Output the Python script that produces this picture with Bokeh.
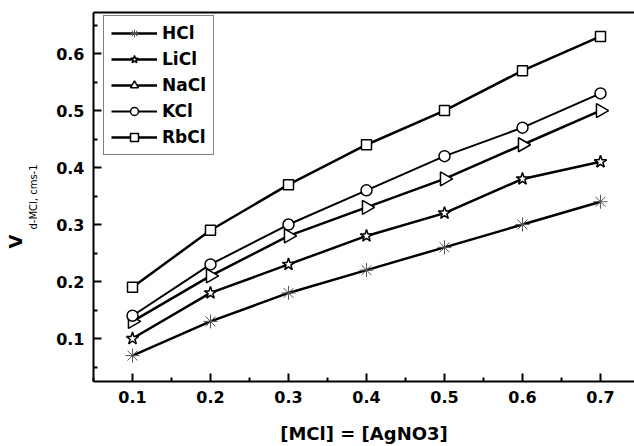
import math
from bokeh.plotting import figure
from bokeh.models import Range1d, FixedTicker, LinearAxis, Legend, Title
from bokeh.embed import file_html
from bokeh.resources import INLINE

# ---- data ----
conc = [0.1, 0.2, 0.3, 0.4, 0.5, 0.6, 0.7]
hcl = [0.07, 0.13, 0.18, 0.22, 0.26, 0.30, 0.34]
licl = [0.10, 0.18, 0.23, 0.28, 0.32, 0.38, 0.41]
nacl = [0.13, 0.21, 0.28, 0.33, 0.38, 0.44, 0.50]
kcl = [0.14, 0.23, 0.30, 0.36, 0.42, 0.47, 0.53]
rbcl = [0.19, 0.29, 0.37, 0.44, 0.50, 0.57, 0.63]
series_names = ["HCl", "LiCl", "NaCl", "KCl", "RbCl"]
x_ticks = [0.1, 0.2, 0.3, 0.4, 0.5, 0.6, 0.7]
x_minor = [0.05, 0.15, 0.25, 0.35, 0.45, 0.55, 0.65, 0.75]
y_ticks = [0.1, 0.2, 0.3, 0.4, 0.5, 0.6]
y_minor = [0.05, 0.15, 0.25, 0.35, 0.45, 0.55, 0.65]
x_title = "[MCl] = [AgNO3]"
y_title_main = "V"
y_title_sub = "d-MCl, cms-1"

FONT = "DejaVu Sans"

p = figure(width=634, height=446, output_backend="svg", toolbar_location=None,
           x_range=Range1d(0.05, 0.7436), y_range=Range1d(0.0246, 0.672),
           min_border_left=93, min_border_right=0, min_border_top=12, min_border_bottom=65)
p.outline_line_color = None
p.grid.visible = False
p.background_fill_color = "white"

for ax, ticks, minor in ((p.xaxis[0], x_ticks, x_minor), (p.yaxis[0], y_ticks, y_minor)):
    ax.ticker = FixedTicker(ticks=ticks, minor_ticks=minor)
    ax.axis_line_width = 2
    ax.axis_line_color = "black"
    ax.major_tick_line_width = 2
    ax.minor_tick_line_width = 2
    ax.major_tick_in = 8
    ax.major_tick_out = 0
    ax.minor_tick_in = 4
    ax.minor_tick_out = 0
    ax.major_label_text_font = FONT
    ax.major_label_text_font_style = "bold"
    ax.major_label_text_font_size = "16px"
    ax.major_label_text_color = "black"
    ax.major_label_standoff = 9

p.xaxis.axis_label = x_title
p.xaxis.axis_label_text_font = FONT
p.xaxis.axis_label_text_font_style = "bold"
p.xaxis.axis_label_text_font_size = "18px"
p.xaxis.axis_label_text_color = "black"
p.xaxis.axis_label_standoff = 17

# y title: subscript as the axis label, the big "V" as a side title next to it
p.yaxis.axis_label = y_title_sub
p.yaxis.axis_label_text_font = FONT
p.yaxis.axis_label_text_font_style = "normal"
p.yaxis.axis_label_text_font_size = "10px"
p.yaxis.axis_label_text_color = "black"
p.yaxis.axis_label_standoff = 14
p.add_layout(Title(text=y_title_main, align="left", offset=133, standoff=0,
                   text_font=FONT, text_font_style="bold", text_font_size="18px",
                   text_color="black"), "left")

# top border line
top_ax = LinearAxis(ticker=FixedTicker(ticks=[]), major_label_text_font_size="0px",
                    axis_line_width=2, major_tick_line_color=None, minor_tick_line_color=None)
p.add_layout(top_ax, "above")

styles = [
    (hcl, "asterisk", 14, 2.5, "#555555", None, 1.0),
    (licl, "star", 13, 2.5, "black", "white", 1.5),
    (nacl, "triangle", 14, 2.5, "black", "white", 1.5),
    (kcl, "circle", 11, 2.0, "black", "white", 1.5),
    (rbcl, "square", 10, 2.5, "black", "white", 1.5),
]
items = []
for name, (ys, marker, size, lw, mline, mfill, mlw) in zip(series_names, styles):
    r1 = p.line(conc, ys, line_color="black", line_width=lw)
    kw = dict(marker=marker, size=size, line_color=mline, line_width=mlw,
              fill_color=mfill if mfill else None)
    if marker == "triangle":
        kw["angle"] = -math.pi / 2
    r2 = p.scatter(conc, ys, **kw)
    items.append((name, [r1, r2]))

legend = Legend(items=items, location=(10, 226), padding=7, spacing=6,
                glyph_width=46, glyph_height=20, label_height=20, label_standoff=5,
                label_text_font=FONT, label_text_font_style="bold",
                label_text_font_size="17px", label_text_color="black",
                border_line_color="black", border_line_width=1.5,
                background_fill_color="white", background_fill_alpha=1.0, margin=0)
p.add_layout(legend, "center")

open("out.html", "w").write(file_html(p, INLINE))
